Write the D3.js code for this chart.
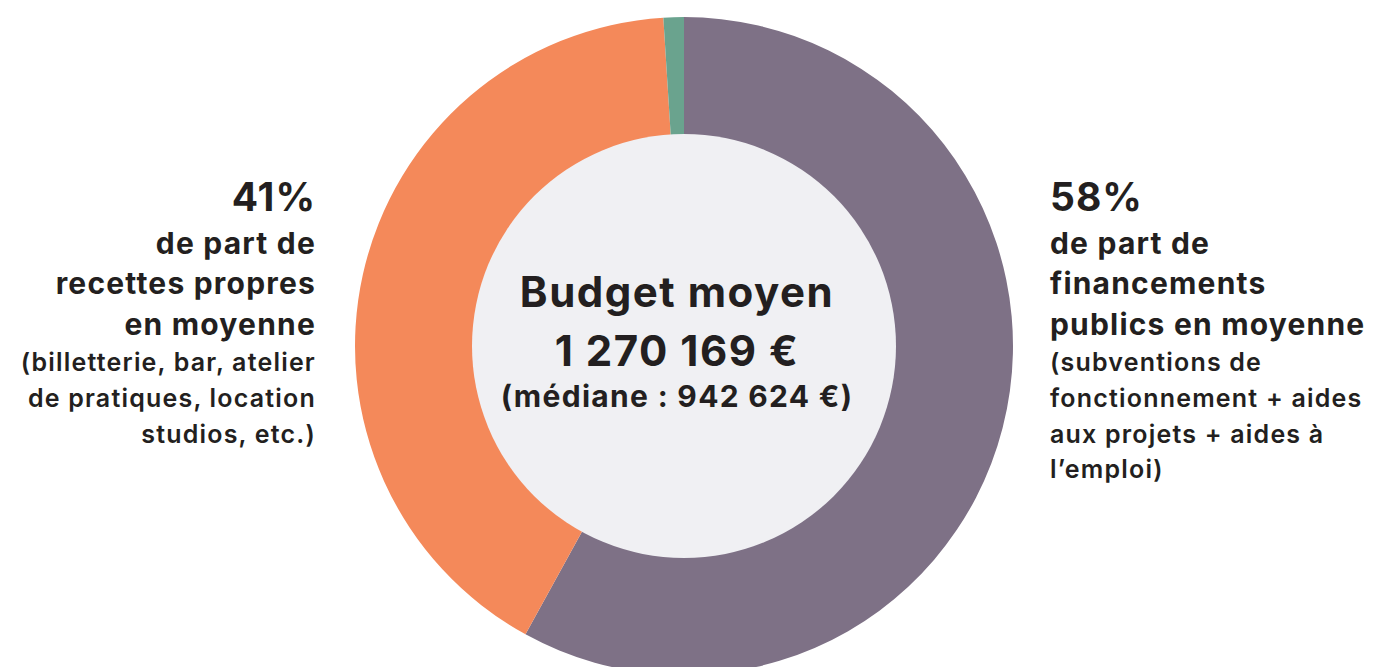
<!DOCTYPE html>
<html>
<head>
<meta charset="utf-8">
<script src="https://cdn.jsdelivr.net/npm/d3@7"></script>
<style>
  html, body { margin: 0; padding: 0; background: #fff; }
  svg { display: block; }
  text { font-family: Inter, "Noto Sans", sans-serif; fill: #231f20; }
</style>
</head>
<body>
<svg id="chart" width="1377" height="667"></svg>
<script>
// budget split, in percent, clockwise from 12 o'clock
const categories = ['Financements publics', 'Recettes propres', 'Autres'];
const shares = [58, 41, 1];
const sliceColors = ['#7e7186', '#f4895a', '#6aa38e'];

const centerLines = ['Budget moyen', '1 270 169 €', '(médiane : 942 624 €)'];

const leftPct = '41%';
const leftMain = ['de part de', 'recettes propres', 'en moyenne'];
const leftNote = ['(billetterie, bar, atelier', 'de pratiques, location', 'studios, etc.)'];

const rightPct = '58%';
const rightMain = ['de part de', 'financements', 'publics en moyenne'];
const rightNote = ['(subventions de', 'fonctionnement + aides', 'aux projets + aides à', 'l’emploi)'];

const svg = d3.select('#chart');
const cx = 684, cy = 346;
const outerR = 329, innerR = 212;

const pie = d3.pie().sort(null).value(d => d);
const arc = d3.arc().innerRadius(innerR - 1).outerRadius(outerR);

const g = svg.append('g').attr('transform', `translate(${cx},${cy})`);

g.selectAll('path.slice')
    .data(pie(shares))
    .join('path')
    .attr('class', 'slice')
    .attr('d', arc)
    .attr('fill', (d, i) => sliceColors[i])
    .append('title')
    .text((d, i) => `${categories[i]} : ${shares[i]}%`);

g.append('circle')
    .attr('r', innerR)
    .attr('fill', '#f0f0f3');

// centre text (sits a little left of the ring's centre)
const centerY = [-39, 20, 61];
const centerSize = [42, 42, 30];
const centerSpacing = [1.5, 1.5, 1.3];
g.selectAll('text.center')
    .data(centerLines)
    .join('text')
    .attr('class', 'center')
    .attr('text-anchor', 'middle')
    .attr('x', -7)
    .attr('y', (d, i) => centerY[i])
    .attr('font-size', (d, i) => centerSize[i])
    .attr('letter-spacing', (d, i) => centerSpacing[i])
    .attr('font-weight', 700)
    .text(d => d);

// side labels
const pctY = 211;
const mainY = [254, 294, 335];
const noteY = [371, 407, 443, 478];

function sideLabel(x, anchor, pct, main, note) {
    const s = svg.append('g').attr('text-anchor', anchor);
    s.append('text')
        .attr('x', x).attr('y', pctY)
        .attr('font-size', 39).attr('font-weight', 700)
        .attr('letter-spacing', 1)
        .text(pct);
    s.selectAll('text.main')
        .data(main)
        .join('text')
        .attr('class', 'main')
        .attr('x', x).attr('y', (d, i) => mainY[i])
        .attr('font-size', 30).attr('font-weight', 700)
        .attr('letter-spacing', 1.2)
        .text(d => d);
    s.selectAll('text.note')
        .data(note)
        .join('text')
        .attr('class', 'note')
        .attr('x', x).attr('y', (d, i) => noteY[i])
        .attr('font-size', 25).attr('font-weight', 600)
        .attr('letter-spacing', 1.2)
        .text(d => d);
}

sideLabel(316, 'end', leftPct, leftMain, leftNote);
sideLabel(1050, 'start', rightPct, rightMain, rightNote);
</script>
</body>
</html>
